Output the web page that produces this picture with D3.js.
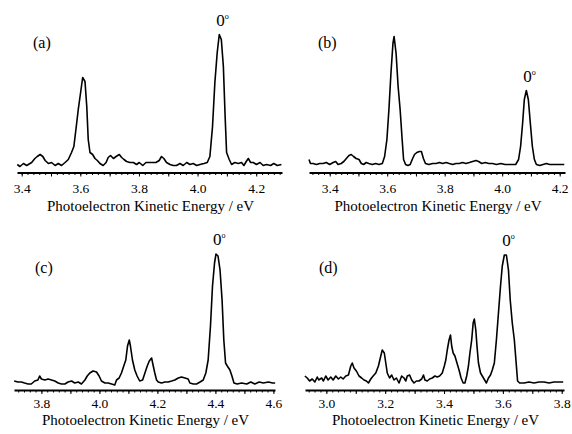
<!DOCTYPE html>
<html>
<head>
<meta charset="utf-8">
<script src="https://cdn.jsdelivr.net/npm/d3@7"></script>
<style>
  body { margin: 0; background: #ffffff; }
  text { font-family: "Liberation Serif", "Times New Roman", serif; fill: #000; }
</style>
</head>
<body>
<svg id="mainsvg" width="572" height="434"></svg>
<script>
// spectra: [kinetic energy (eV), intensity (arb. units)]
const spectrumA = [
  [3.385,8],[3.394,6],[3.406,9],[3.417,7],[3.434,10],[3.445,14],[3.453,16],[3.463,18],[3.472,16],[3.480,12],
  [3.491,9],[3.502,10],[3.514,7],[3.525,9],[3.536,7],[3.548,10],[3.559,13],[3.570,20],[3.578,26],[3.585,43],
  [3.593,63],[3.601,80],[3.608,95],[3.616,91],[3.622,66],[3.627,33],[3.633,20],[3.642,18],[3.650,14],[3.658,12],
  [3.667,9],[3.678,7],[3.688,10],[3.695,15],[3.703,17],[3.713,14],[3.722,16],[3.733,18],[3.741,15],[3.749,13],
  [3.758,11],[3.769,10],[3.781,10],[3.792,8],[3.801,10],[3.813,7],[3.824,10],[3.835,10],[3.847,10],[3.858,10],
  [3.869,12],[3.877,16],[3.885,14],[3.894,10],[3.906,8],[3.917,7],[3.928,7],[3.940,9],[3.951,7],[3.963,10],
  [3.974,8],[3.985,9],[3.997,7],[4.008,8],[4.022,9],[4.033,10],[4.042,16],[4.051,46],[4.059,90],[4.067,120],
  [4.074,138],[4.081,133],[4.088,106],[4.094,56],[4.099,20],[4.108,13],[4.116,8],[4.127,10],[4.139,9],[4.150,10],
  [4.158,7],[4.166,11],[4.173,14],[4.181,10],[4.190,10],[4.201,8],[4.213,10],[4.224,7],[4.235,8],[4.249,7],
  [4.260,9],[4.272,7],[4.286,8]
];
const spectrumB = [
  [3.328,13],[3.333,9],[3.342,9],[3.354,8],[3.365,9],[3.377,9],[3.388,10],[3.400,8],[3.412,10],[3.421,11],
  [3.429,8],[3.440,9],[3.449,11],[3.458,14],[3.467,17],[3.475,18],[3.483,16],[3.492,14],[3.502,13],[3.510,9],
  [3.518,8],[3.527,10],[3.536,9],[3.548,8],[3.560,9],[3.571,8],[3.583,9],[3.591,16],[3.599,33],[3.606,63],
  [3.613,99],[3.620,129],[3.624,136],[3.631,119],[3.638,86],[3.645,63],[3.652,33],[3.657,13],[3.664,8],[3.672,7],
  [3.680,8],[3.687,13],[3.695,18],[3.703,20],[3.712,21],[3.719,21],[3.726,14],[3.733,9],[3.745,8],[3.758,9],
  [3.770,9],[3.782,10],[3.793,9],[3.805,10],[3.816,9],[3.828,8],[3.839,9],[3.851,9],[3.862,10],[3.874,9],
  [3.886,10],[3.897,11],[3.909,12],[3.918,11],[3.929,9],[3.941,10],[3.953,9],[3.966,9],[3.980,8],[3.995,9],
  [4.010,8],[4.024,8],[4.036,8],[4.047,8],[4.057,13],[4.064,26],[4.071,49],[4.077,73],[4.084,82],[4.091,73],
  [4.098,49],[4.105,26],[4.112,13],[4.119,8],[4.131,7],[4.142,8],[4.154,9],[4.165,8],[4.177,8],[4.192,8],
  [4.207,8],[4.216,8]
];
const spectrumC = [
  [3.706,9],[3.719,8],[3.731,8],[3.742,7],[3.754,6],[3.765,6],[3.777,9],[3.788,10],[3.794,14],[3.800,11],
  [3.812,10],[3.823,11],[3.835,10],[3.846,9],[3.858,7],[3.869,6],[3.881,6],[3.892,8],[3.904,9],[3.915,7],
  [3.927,8],[3.938,6],[3.950,10],[3.958,14],[3.967,17],[3.978,19],[3.990,18],[3.999,14],[4.007,9],[4.019,7],
  [4.030,7],[4.042,6],[4.053,5],[4.059,10],[4.068,12],[4.076,17],[4.084,24],[4.091,30],[4.097,44],[4.103,50],
  [4.107,44],[4.114,30],[4.122,20],[4.130,14],[4.139,9],[4.149,10],[4.157,17],[4.165,24],[4.172,29],[4.180,32],
  [4.185,25],[4.191,17],[4.197,10],[4.203,8],[4.214,7],[4.226,8],[4.237,8],[4.249,9],[4.260,10],[4.272,12],
  [4.283,13],[4.295,12],[4.306,11],[4.312,7],[4.324,6],[4.335,6],[4.347,8],[4.358,10],[4.367,17],[4.375,30],
  [4.383,64],[4.390,104],[4.397,127],[4.402,136],[4.409,134],[4.416,120],[4.423,90],[4.429,50],[4.435,27],[4.441,24],
  [4.450,20],[4.457,14],[4.464,7],[4.475,6],[4.490,7],[4.508,6],[4.522,8],[4.536,6],[4.551,8],[4.565,7],
  [4.583,8],[4.597,7],[4.606,7]
];
const spectrumD = [
  [2.927,14],[2.935,12],[2.943,9],[2.952,11],[2.961,8],[2.969,13],[2.974,10],[2.984,12],[2.990,9],[2.998,14],
  [3.006,10],[3.015,13],[3.023,10],[3.032,14],[3.041,11],[3.049,13],[3.057,11],[3.066,14],[3.075,15],[3.083,24],
  [3.088,27],[3.094,22],[3.102,19],[3.111,14],[3.120,12],[3.128,10],[3.136,9],[3.143,7],[3.151,11],[3.159,14],
  [3.168,17],[3.177,24],[3.185,34],[3.190,40],[3.197,37],[3.202,27],[3.207,17],[3.215,12],[3.222,15],[3.230,10],
  [3.238,12],[3.247,7],[3.256,14],[3.264,12],[3.270,9],[3.275,14],[3.283,15],[3.290,10],[3.298,7],[3.306,9],
  [3.315,9],[3.324,11],[3.330,15],[3.335,10],[3.343,9],[3.351,11],[3.360,12],[3.369,14],[3.377,13],[3.385,14],
  [3.394,17],[3.401,24],[3.406,30],[3.411,40],[3.417,50],[3.422,55],[3.426,44],[3.431,37],[3.437,34],[3.444,27],
  [3.451,20],[3.458,12],[3.465,7],[3.471,7],[3.477,14],[3.483,24],[3.488,37],[3.494,50],[3.499,67],[3.503,71],
  [3.508,60],[3.512,44],[3.517,27],[3.524,17],[3.530,14],[3.538,10],[3.544,7],[3.551,12],[3.558,15],[3.564,20],
  [3.571,27],[3.578,50],[3.585,77],[3.592,104],[3.598,124],[3.605,135],[3.612,135],[3.619,120],[3.625,90],[3.632,67],
  [3.639,50],[3.646,24],[3.650,9],[3.657,7],[3.672,7],[3.689,8],[3.706,7],[3.723,8],[3.740,8],[3.757,7],
  [3.774,8],[3.791,8],[3.805,8]
];

// axis extents (eV) and labelled ticks
const domainA = [3.384, 4.288];
const domainB = [3.328, 4.2185];
const domainC = [3.7055, 4.6055];
const domainD = [2.9274, 3.8078];
const ticksA = [3.4, 3.6, 3.8, 4.0, 4.2];
const ticksB = [3.4, 3.6, 3.8, 4.0, 4.2];
const ticksC = [3.8, 4.0, 4.2, 4.4, 4.6];
const ticksD = [3.0, 3.2, 3.4, 3.6, 3.8];
// position of the origin band (0°) in each panel
const originPeaks = [4.074, 4.084, 4.402, 3.608];
const panelNames = ['(a)', '(b)', '(c)', '(d)'];
const xAxisLabel = 'Photoelectron Kinetic Energy / eV';

const svg = d3.select('#mainsvg');

const panels = [
  {data: spectrumA, domain: domainA, ticks: ticksA, x0: 17,  x1: 282, axisY: 172.5, pad: 11, titleDy: 38, nameX: 33,  nameY: 48},
  {data: spectrumB, domain: domainB, ticks: ticksB, x0: 309, x1: 565, axisY: 172.5, pad: 11, titleDy: 38, nameX: 318, nameY: 48},
  {data: spectrumC, domain: domainC, ticks: ticksC, x0: 14,  x1: 275, axisY: 390,   pad: 8,  titleDy: 35, nameX: 35,  nameY: 273},
  {data: spectrumD, domain: domainD, ticks: ticksD, x0: 305, x1: 564, axisY: 390,   pad: 8,  titleDy: 35, nameX: 319, nameY: 273}
];

panels.forEach((p, i) => {
  const g = svg.append('g');

  const xScale = d3.scaleLinear().domain(p.domain).range([p.x0, p.x1]);
  const yScale = d3.scaleLinear().domain([0, 140]).range([p.axisY, p.axisY - 140]);

  // minor ticks every 0.02 eV, slightly longer every 0.1 eV
  const minor = d3.range(Math.ceil(p.domain[0] * 50), Math.floor(p.domain[1] * 50) + 1).map(k => k / 50);
  const mid = d3.range(Math.ceil(p.domain[0] * 10), Math.floor(p.domain[1] * 10) + 1).map(k => k / 10);

  const minorAxis = g.append('g')
    .attr('transform', `translate(0, ${p.axisY})`)
    .call(d3.axisBottom(xScale).tickValues(minor).tickSize(2.5).tickSizeOuter(0).tickFormat(''));
  minorAxis.selectAll('.tick line').attr('stroke', '#000').attr('stroke-width', 1);
  minorAxis.select('.domain').attr('stroke', '#000').attr('stroke-width', 2);

  const midAxis = g.append('g')
    .attr('transform', `translate(0, ${p.axisY})`)
    .call(d3.axisBottom(xScale).tickValues(mid).tickSize(4).tickSizeOuter(0).tickFormat(''));
  midAxis.select('.domain').remove();
  midAxis.selectAll('.tick line').attr('stroke', '#000').attr('stroke-width', 1);

  const labelAxis = g.append('g')
    .attr('transform', `translate(0, ${p.axisY})`)
    .call(d3.axisBottom(xScale).tickValues(p.ticks).tickSize(0).tickPadding(p.pad).tickFormat(d3.format('.1f')));
  labelAxis.select('.domain').remove();
  labelAxis.selectAll('text')
    .attr('font-family', '"Liberation Serif", serif')
    .attr('font-size', 13.5)
    .attr('fill', '#000');

  // axis title
  g.append('text')
    .attr('x', (p.x0 + p.x1) / 2 + 1)
    .attr('y', p.axisY + p.titleDy)
    .attr('text-anchor', 'middle')
    .attr('font-size', 15)
    .text(xAxisLabel);

  // spectrum trace
  const line = d3.line()
    .x(d => xScale(d[0]))
    .y(d => yScale(d[1]));
  g.append('path')
    .datum(p.data)
    .attr('d', line)
    .attr('fill', 'none')
    .attr('stroke', '#000')
    .attr('stroke-width', 1.6)
    .attr('stroke-linejoin', 'round');

  // panel name
  g.append('text')
    .attr('x', p.nameX)
    .attr('y', p.nameY)
    .attr('font-size', 16)
    .text(panelNames[i]);

  // 0° marker above the origin band
  const peakE = originPeaks[i];
  const peakI = d3.max(p.data.filter(d => Math.abs(d[0] - peakE) < 0.02), d => d[1]);
  const mark = g.append('text')
    .attr('x', xScale(peakE) - 3)
    .attr('y', yScale(peakI) - 9)
    .attr('text-anchor', 'start')
    .attr('font-size', 17);
  mark.append('tspan').text('0');
  mark.append('tspan').attr('font-size', 8).attr('dy', -7).text('o');
});
</script>
</body>
</html>
